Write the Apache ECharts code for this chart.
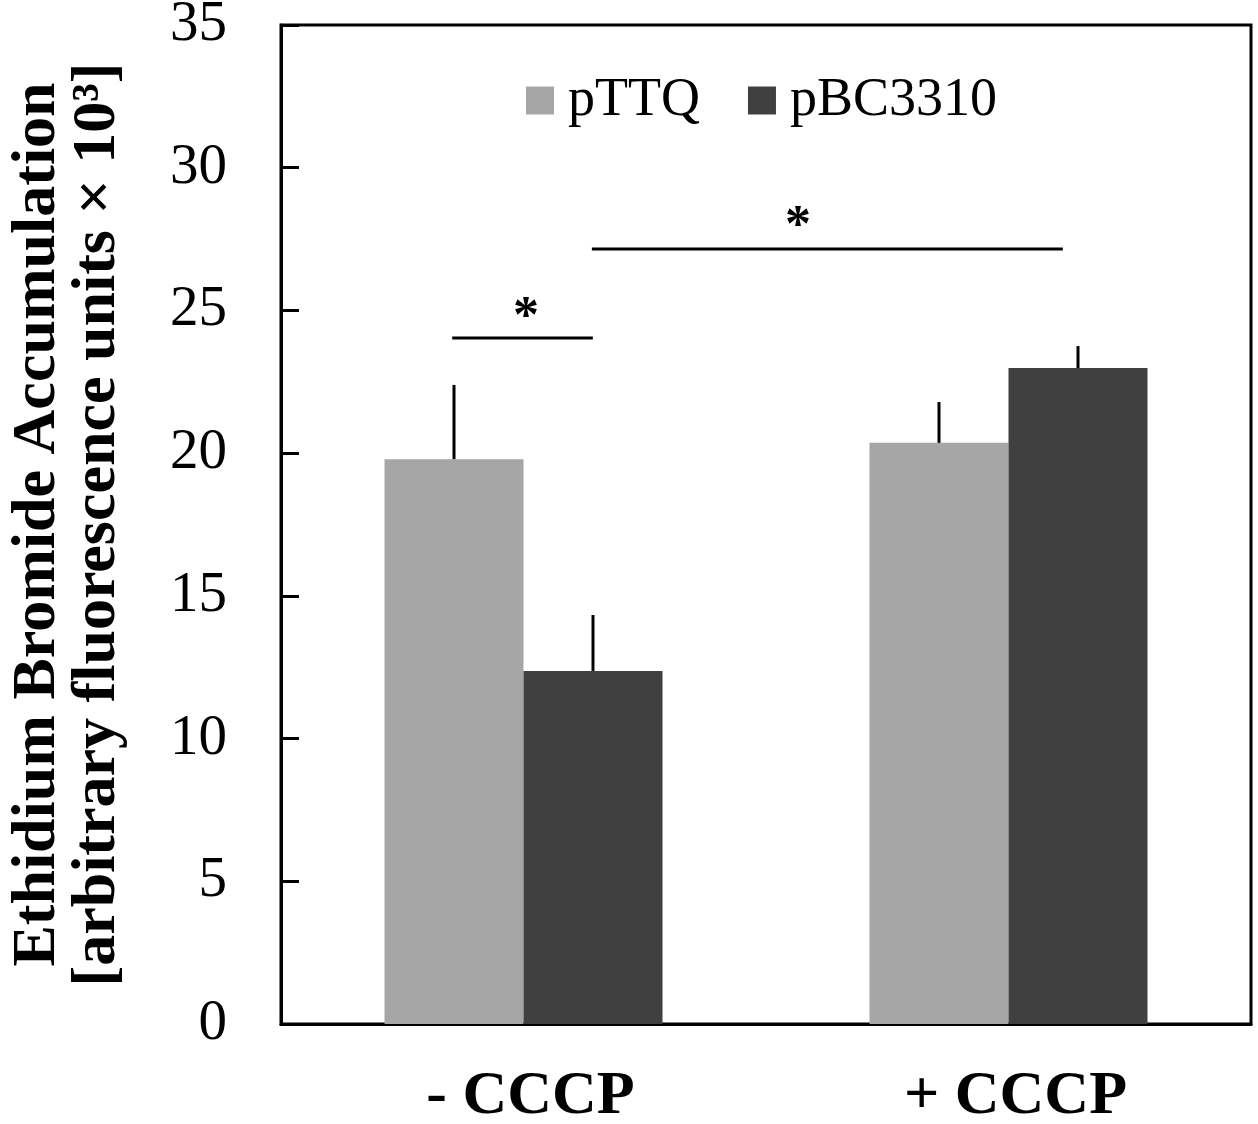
<!DOCTYPE html>
<html>
<head>
<meta charset="utf-8">
<script src="https://cdn.jsdelivr.net/npm/echarts@6/dist/echarts.min.js"></script>
<style>
html,body{margin:0;padding:0;background:#fff;}
#chart{width:1258px;height:1124px;}
</style>
</head>
<body>
<div id="chart"></div>
<script>
// ---- data ----
const categories = ['- CCCP', '+ CCCP'];
const seriesNames = ['pTTQ', 'pBC3310'];
const pTTQ = [19.79, 20.36];
const pTTQErr = [2.60, 1.43];
const pBC3310 = [12.37, 22.98];
const pBC3310Err = [1.96, 0.77];
const yMin = 0, yMax = 35, yInterval = 5;
const yAxisName = 'Ethidium Bromide Accumulation\n[arbitrary fluorescence units \u00d7 10\u00b3]';
// significance brackets (x in category units 0..2, y in data units)
const sigLineA = [[0.353, 24.03], [0.643, 24.03]];
const sigLineB = [[0.641, 27.15], [1.612, 27.15]];
const sigStars = [[0.505, 25.05], [1.066, 28.27]];

// ---- styles ----
const FONT = '"Liberation Serif", "Times New Roman", serif';
const BAR_W = 139;
const COLORS = ['#a6a6a6', '#404040'];

function errSeries(vals, errs, offset) {
  return {
    type: 'custom',
    xAxisIndex: 0, yAxisIndex: 0,
    z: 5,
    silent: true,
    data: vals.map((v, i) => [i, v, v + errs[i]]),
    renderItem: function (params, api) {
      const base = api.coord([api.value(0), api.value(1)]);
      const top = api.coord([api.value(0), api.value(2)]);
      const x = base[0] + offset;
      return {
        type: 'line',
        shape: { x1: x, y1: base[1], x2: x, y2: top[1] },
        style: { stroke: '#000', lineWidth: 3 }
      };
    }
  };
}

function lineSeries(pts) {
  return {
    type: 'line',
    xAxisIndex: 1, yAxisIndex: 0,
    data: pts,
    symbol: 'none',
    silent: true,
    lineStyle: { color: '#000', width: 3 },
    z: 6
  };
}

const chart = echarts.init(document.getElementById('chart'));
chart.setOption({
  animation: false,
  backgroundColor: '#fff',
  grid: { left: 281, right: 7, top: 25, bottom: 100, show: true, borderColor: '#000', borderWidth: 3, containLabel: false, outerBoundsMode: 'none' },
  legend: {
    data: seriesNames,
    left: 526, top: 65.5,
    padding: 0,
    icon: 'rect',
    itemWidth: 28, itemHeight: 28,
    itemGap: 48,
    textStyle: { fontFamily: FONT, fontSize: 54, color: '#000', padding: [16, 0, 0, 9], lineHeight: 54 }
  },
  xAxis: [{
    type: 'category',
    data: categories,
    axisLine: { lineStyle: { color: '#000', width: 3 } },
    axisTick: { show: false },
    axisLabel: { fontFamily: FONT, fontSize: 62, fontWeight: 'bold', color: '#000', margin: 42, lineHeight: 62, padding: [0, 0, 0, 14] },
    splitLine: { show: false }
  }, {
    type: 'value', min: 0, max: 2, show: false
  }],
  yAxis: [{
    type: 'value',
    min: yMin, max: yMax, interval: yInterval,
    name: yAxisName,
    nameLocation: 'middle',
    nameRotate: 90,
    nameGap: 153,
    nameTextStyle: { fontFamily: FONT, fontSize: 62, fontWeight: 'bold', color: '#000', lineHeight: 60 },
    axisLine: { show: true, lineStyle: { color: '#000', width: 3 } },
    axisTick: { show: true, inside: true, length: 18, lineStyle: { color: '#000', width: 3 } },
    axisLabel: { fontFamily: FONT, fontSize: 57, color: '#000', margin: 54 },
    splitLine: { show: false }
  }],
  series: [
    { name: seriesNames[0], type: 'bar', data: pTTQ, barWidth: BAR_W, barGap: '0%', itemStyle: { color: COLORS[0] }, z: 2 },
    { name: seriesNames[1], type: 'bar', data: pBC3310, barWidth: BAR_W, barGap: '0%', itemStyle: { color: COLORS[1] }, z: 2 },
    errSeries(pTTQ, pTTQErr, -BAR_W / 2),
    errSeries(pBC3310, pBC3310Err, BAR_W / 2),
    lineSeries(sigLineA),
    lineSeries(sigLineB),
    {
      type: 'custom',
      xAxisIndex: 1, yAxisIndex: 0,
      silent: true,
      z: 7,
      data: sigStars,
      renderItem: function (params, api) {
        const p = api.coord([api.value(0), api.value(1)]);
        return {
          type: 'text',
          x: p[0], y: p[1] + 10,
          style: { text: '*', fontFamily: FONT, fontSize: 52, fontWeight: 'bold', fill: '#000', align: 'center', verticalAlign: 'middle' }
        };
      }
    }
  ]
});
</script>
</body>
</html>
